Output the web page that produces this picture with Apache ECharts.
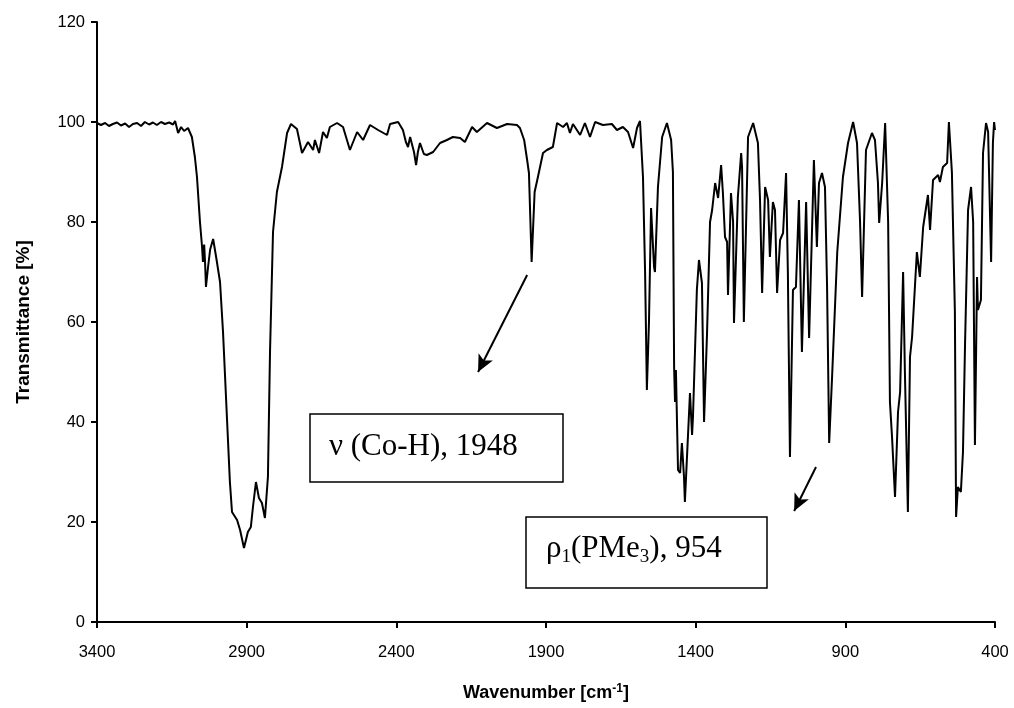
<!DOCTYPE html>
<html>
<head>
<meta charset="utf-8">
<script src="https://cdn.jsdelivr.net/npm/echarts@6/dist/echarts.min.js"></script>
<style>html,body{margin:0;padding:0;background:#fff}#c{width:1014px;height:708px}</style>
</head>
<body>
<div id="c"></div>
<script>
// Wavenumbers (cm-1) and transmittance (%)
var wavenumbers = [3400,3387,3373,3360,3347,3333,3320,3306,3293,3280,3266,3253,3240,3226,3213,3200,3186,3173,3159,3146,3139,3129,3119,3109,3096,3083,3073,3066,3056,3049,3046,3042,3039,3036,3029,3022,3012,3002,2989,2979,2966,2956,2949,2932,2922,2909,2902,2896,2886,2879,2869,2859,2849,2839,2829,2822,2812,2799,2782,2765,2752,2732,2715,2695,2678,2672,2658,2645,2632,2622,2598,2578,2555,2531,2511,2488,2461,2431,2421,2394,2378,2368,2361,2354,2348,2341,2334,2328,2321,2308,2298,2277,2254,2231,2211,2187,2171,2147,2131,2097,2064,2030,1997,1987,1973,1963,1957,1948,1938,1927,1910,1897,1877,1863,1843,1830,1820,1810,1786,1770,1753,1736,1710,1680,1663,1643,1626,1609,1596,1586,1576,1569,1563,1556,1549,1539,1536,1526,1512,1496,1482,1476,1472,1469,1466,1459,1452,1446,1439,1436,1429,1419,1412,1409,1396,1389,1379,1372,1362,1352,1345,1335,1325,1315,1309,1302,1295,1292,1282,1275,1272,1259,1248,1245,1239,1225,1208,1192,1185,1178,1168,1158,1152,1142,1135,1128,1118,1108,1098,1092,1085,1075,1065,1055,1045,1031,1021,1005,995,988,978,968,961,954,944,927,908,891,874,861,851,844,831,811,801,791,787,777,767,757,751,744,734,724,717,707,701,691,684,677,661,651,640,624,617,607,590,584,574,560,554,544,534,530,524,514,507,500,490,480,473,467,460,457,447,440,430,423,413,407,403,400];
var transmittance = [99.8,99.4,99.8,99.2,99.6,99.9,99.3,99.7,99.0,99.6,99.8,99.2,100,99.5,99.9,99.4,100,99.6,99.9,99.5,100.2,97.8,99.0,98.2,98.8,97,93,89,80,75,72,75.5,72,67,71,74.5,76.6,73,68,58,41,28,22,20.4,18.4,14.8,16.5,18,19,23,28,24.8,23.8,20.8,29,54,78,86,91,97.8,99.6,98.6,93.8,96,94.4,96.4,93.8,98,96.8,99,99.8,99,94.4,98,96.4,99.4,98.4,97.4,99.6,100,98.4,96,95,97,97,94,91.4,94,95.8,93.6,93.4,94,95.8,96.4,97,96.8,96,99,98,99.8,98.8,99.6,99.4,98.8,96.4,92.4,89.8,72,86,89,93.8,94.4,95,99.8,99,99.8,97.8,99.6,97.4,99.8,97,100,99.4,99.6,98.4,99,98,94.8,98.8,100.2,89,70,46.4,60,82.8,71,70,87,97,99.8,96.4,90,51,44,50.4,30.4,29.8,35.8,29,24,33,45.8,37.4,41,66.4,72.4,67.8,40,57.8,80,82.4,87.8,84.8,91.4,85.8,77,76,65.4,85.8,80,59.8,85,93.8,91,60,97,99.8,95.8,84.4,65.8,87,84.4,73,84,82.4,65.8,76.4,77.8,89.8,70,33,66.4,67,84.4,54,84,56.8,92.4,75,87.8,89.8,87,67,35.8,49.4,74,89,95.8,100,95.8,80.4,65,94.4,97.8,96.4,87.8,79.8,87.8,99.8,80,44,37,25,42,46,70,50,22,53,57,74,69,79,85.4,78.4,88.4,89.4,88,91,91.8,100,90,62,21,27,26,34,55.8,82.4,87,80,35.4,69,62.4,64.4,93.8,99.8,98,72,95.8,100,98.4];
var xTicks = [400,900,1400,1900,2400,2900,3400];
var yTicks = [0,20,40,60,80,100,120];
var annotations = ['ν (Co-H), 1948', '{n|ρ}{s|1}{n|(PMe}{s|3}{n|), 954}'];

var pairs = wavenumbers.map(function (w, i) { return [w, transmittance[i]]; });

var chart = echarts.init(document.getElementById('c'), null, {renderer: 'canvas'});
var axisCol = '#000';
var plain = function (v) { return String(v); };
chart.setOption({
  animation: false,
  backgroundColor: '#fff',
  grid: {left: 97, right: 19, top: 22, bottom: 86, containLabel: false},
  xAxis: {
    type: 'value', inverse: true, min: 400, max: 3400,
    axisLine: {show: true, onZero: false, lineStyle: {color: axisCol, width: 2}},
    axisTick: {show: true, length: 6, lineStyle: {color: axisCol, width: 2}, customValues: xTicks},
    axisLabel: {color: '#000', fontFamily: 'Liberation Sans', fontSize: 16.5, margin: 22, customValues: xTicks, formatter: plain},
    splitLine: {show: false},
    name: '{b|Wavenumber [cm}{sup|-1}{b|]}',
    nameLocation: 'middle', nameGap: 61,
    nameTextStyle: {
      rich: {
        b: {fontFamily: 'Liberation Sans', fontWeight: 'bold', fontSize: 18, color: '#000'},
        sup: {fontFamily: 'Liberation Sans', fontWeight: 'bold', fontSize: 12, color: '#000', padding: [0, 0, 9, 0]}
      }
    }
  },
  yAxis: {
    type: 'value', min: 0, max: 120, interval: 20,
    axisLine: {show: true, lineStyle: {color: axisCol, width: 2}},
    axisTick: {show: true, length: 6, lineStyle: {color: axisCol, width: 2}},
    axisLabel: {color: '#000', fontFamily: 'Liberation Sans', fontSize: 16.5, margin: 12, formatter: plain},
    splitLine: {show: false},
    name: 'Transmittance [%]', nameLocation: 'middle', nameGap: 64,
    nameTextStyle: {fontFamily: 'Liberation Sans', fontWeight: 'bold', fontSize: 19, color: '#000'}
  },
  series: [{
    type: 'line', data: pairs, showSymbol: false, symbol: 'none', smooth: false,
    lineStyle: {color: '#000', width: 2}, silent: true,
    markLine: {
      silent: true, symbol: ['none', 'arrow'], symbolSize: [12, 17],
      label: {show: false},
      lineStyle: {color: '#000', width: 2, type: 'solid'},
      data: [
        [{coord: [1963, 69.4]}, {coord: [2127, 50]}],
        [{coord: [998, 31]}, {coord: [1071, 22.2]}]
      ]
    }
  }],
  graphic: [
    {type: 'rect', shape: {x: 310, y: 414, width: 253, height: 68}, style: {fill: '#fff', stroke: '#000', lineWidth: 1.5}, z: 10},
    {type: 'text', x: 329, y: 447, z: 11, style: {text: annotations[0], fill: '#000', font: '31px "Liberation Serif"', verticalAlign: 'middle'}},
    {type: 'rect', shape: {x: 526, y: 517, width: 241, height: 71}, style: {fill: '#fff', stroke: '#000', lineWidth: 1.5}, z: 10},
    {type: 'text', x: 546, y: 549, z: 11, style: {
      text: annotations[1], verticalAlign: 'middle',
      rich: {
        n: {fontFamily: 'Liberation Serif', fontSize: 31, fill: '#000', lineHeight: 36, verticalAlign: 'middle'},
        s: {fontFamily: 'Liberation Serif', fontSize: 19, fill: '#000', lineHeight: 18, verticalAlign: 'bottom'}
      }
    }}
  ]
});
</script>
</body>
</html>
